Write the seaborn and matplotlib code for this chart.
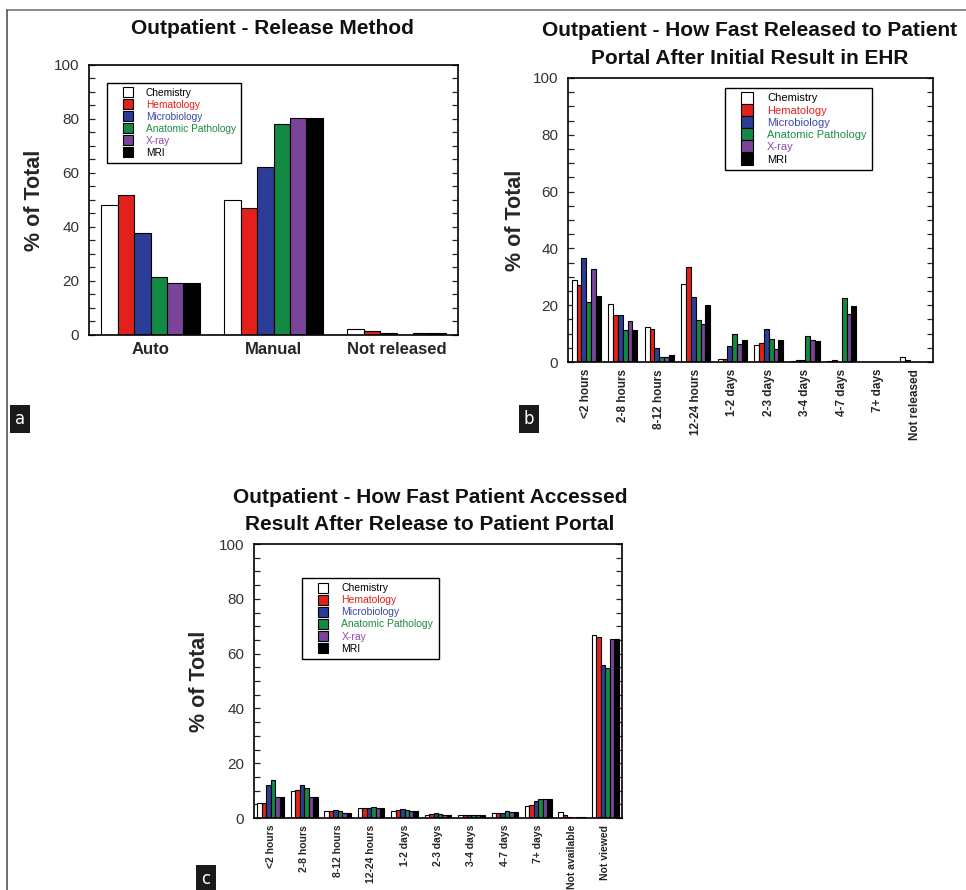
import matplotlib
matplotlib.use("Agg")
import matplotlib.pyplot as plt
from matplotlib.lines import Line2D
from matplotlib.ticker import MultipleLocator
import pandas as pd
import seaborn as sns

# ---------------------------------------------------------------------------
# data (% of total)
# ---------------------------------------------------------------------------

DEPTS = ["Chemistry", "Hematology", "Microbiology", "Anatomic Pathology", "X-ray", "MRI"]
FILL = ["white", "#e3201b", "#2b3d97", "#138a43", "#7a449a", "black"]
TEXT = ["black", "#e3201b", "#3b4aa8", "#1d8a45", "#8b4aa8", "black"]

# panel a - release method
a_cats = ["Auto", "Manual", "Not released"]
a_chemistry = [48.1, 50.0, 2.3]
a_hematology = [51.9, 47.2, 1.4]
a_microbiology = [37.7, 62.3, 0.6]
a_anatomic = [21.6, 78.1, 0.0]
a_xray = [19.4, 80.2, 0.6]
a_mri = [19.4, 80.2, 0.6]

# panel b - how fast released to portal
b_cats = ["<2 hours", "2-8 hours", "8-12 hours", "12-24 hours", "1-2 days",
          "2-3 days", "3-4 days", "4-7 days", "7+ days", "Not released"]
b_chemistry = [28.8, 20.3, 12.3, 27.6, 1.2, 6.1, 0.2, 0.2, 0.0, 1.8]
b_hematology = [27.0, 16.7, 11.6, 33.5, 1.2, 6.8, 0.8, 0.8, 0.0, 0.8]
b_microbiology = [36.7, 16.7, 4.9, 22.9, 5.6, 11.5, 0.8, 0.0, 0.0, 0.0]
b_anatomic = [21.1, 11.2, 1.8, 14.9, 10.0, 8.0, 9.0, 22.7, 0.0, 0.0]
b_xray = [32.6, 14.4, 1.8, 13.5, 6.5, 4.7, 7.6, 17.0, 0.0, 0.0]
b_mri = [23.2, 11.4, 2.3, 20.0, 7.6, 7.6, 7.3, 19.6, 0.0, 0.0]

# panel c - how fast patient accessed
c_cats = ["<2 hours", "2-8 hours", "8-12 hours", "12-24 hours", "1-2 days",
          "2-3 days", "3-4 days", "4-7 days", "7+ days", "Not available", "Not viewed"]
c_chemistry = [5.6, 9.9, 2.4, 3.5, 2.4, 1.1, 1.1, 1.9, 4.4, 2.2, 66.8]
c_hematology = [5.6, 10.3, 2.4, 3.5, 2.8, 1.6, 1.1, 1.9, 4.9, 1.1, 66.1]
c_microbiology = [11.9, 11.9, 2.8, 3.5, 3.2, 1.9, 1.1, 1.9, 6.1, 0.4, 55.8]
c_anatomic = [14.0, 11.1, 2.4, 4.0, 2.8, 1.6, 1.1, 2.4, 6.9, 0.0, 54.6]
c_xray = [7.7, 7.7, 1.9, 3.5, 2.4, 1.1, 1.1, 2.2, 6.9, 0.4, 65.5]
c_mri = [7.7, 7.7, 1.9, 3.5, 2.4, 1.1, 1.1, 2.2, 6.9, 0.4, 65.5]

W, H = 966, 890
FONT = ["Liberation Sans", "DejaVu Sans"]


def long_df(cats, series):
    rows = []
    for dept, vals in zip(DEPTS, series):
        for cat, v in zip(cats, vals):
            rows.append((cat, dept, v))
    return pd.DataFrame(rows, columns=["cat", "dept", "pct"])


def px_axes(fig, x0, y0, x1, y1):
    # pixel box (top-left origin) -> figure axes
    return fig.add_axes([x0 / W, 1 - y1 / H, (x1 - x0) / W, (y1 - y0) / H])


def draw_panel(ax, cats, series, leg_anchor, leg_size, tick_size, tick_rot, lab_x, marker):
    df = long_df(cats, series)
    sns.barplot(data=df, x="cat", y="pct", hue="dept", order=cats, hue_order=DEPTS,
                palette=dict(zip(DEPTS, FILL)), saturation=1, width=0.8,
                edgecolor="black", linewidth=0.8, legend=False, ax=ax)
    ax.set_ylim(0, 100)
    ax.set_xlim(-0.5, len(cats) - 0.5)
    ax.yaxis.set_major_locator(MultipleLocator(20))
    ax.yaxis.set_minor_locator(MultipleLocator(5))
    ax.tick_params(axis="y", which="both", direction="in", left=True, right=True,
                   length=4, width=0.9, labelsize=11, labelcolor="#333333", pad=7)
    ax.tick_params(axis="x", length=0, pad=5)
    for lab in ax.get_xticklabels():
        lab.set_rotation(tick_rot)
        lab.set_fontsize(tick_size)
        lab.set_fontweight("bold")
        if tick_rot:
            lab.set_va("top")
            lab.set_ha("center")
    for s in ax.spines.values():
        s.set_linewidth(1.2)
        s.set_color("black")
    ax.set_xlabel("")
    ax.set_ylabel("% of Total", fontsize=15.5, fontweight="bold")
    ax.yaxis.set_label_coords(lab_x, 0.5)

    handles = [Line2D([], [], marker="s", linestyle="none", markersize=marker,
                      markerfacecolor=f, markeredgecolor="black", markeredgewidth=0.8)
               for f in FILL]
    leg = ax.legend(handles, DEPTS, loc="upper left", bbox_to_anchor=leg_anchor,
                    fontsize=leg_size, frameon=True, fancybox=False, edgecolor="black",
                    framealpha=1, handlelength=3.0, handletextpad=0.3,
                    labelspacing=0.2, borderpad=0.5, borderaxespad=0, numpoints=1)
    leg.get_frame().set_linewidth(1.0)
    for t, c in zip(leg.get_texts(), TEXT):
        t.set_color(c)


sns.set_theme(style="white")
plt.rcParams["font.family"] = FONT

fig = plt.figure(figsize=(W / 100, H / 100), dpi=100)

ax_a = px_axes(fig, 89, 65, 458, 335)
draw_panel(ax_a, a_cats,
           [a_chemistry, a_hematology, a_microbiology, a_anatomic, a_xray, a_mri],
           leg_anchor=(0.05, 0.935), leg_size=7.3, tick_size=12, tick_rot=0,
           lab_x=-0.12, marker=7)

ax_b = px_axes(fig, 568, 78, 933, 362)
draw_panel(ax_b, b_cats,
           [b_chemistry, b_hematology, b_microbiology, b_anatomic, b_xray, b_mri],
           leg_anchor=(0.43, 0.965), leg_size=8, tick_size=8.5, tick_rot=90,
           lab_x=-0.115, marker=8)

ax_c = px_axes(fig, 254, 544, 622, 818)
draw_panel(ax_c, c_cats,
           [c_chemistry, c_hematology, c_microbiology, c_anatomic, c_xray, c_mri],
           leg_anchor=(0.13, 0.876), leg_size=7.5, tick_size=7.5, tick_rot=90,
           lab_x=-0.12, marker=7)

# titles
title_kw = dict(ha="center", va="center", fontsize=15, fontweight="bold", color="#111111")
fig.text(272 / W, 1 - 28 / H, "Outpatient - Release Method", **title_kw)
fig.text(750 / W, 1 - 31 / H, "Outpatient - How Fast Released to Patient", **title_kw)
fig.text(750 / W, 1 - 59 / H, "Portal After Initial Result in EHR", **title_kw)
fig.text(430 / W, 1 - 498 / H, "Outpatient - How Fast Patient Accessed", **title_kw)
fig.text(430 / W, 1 - 524 / H, "Result After Release to Patient Portal", **title_kw)

# panel letters
box = dict(facecolor="#1a1a1a", edgecolor="none", boxstyle="square,pad=0.3")
for x, y, s in [(20, 419, "a"), (529, 419, "b"), (206, 879, "c")]:
    fig.text(x / W, 1 - y / H, s, ha="center", va="center", fontsize=12,
             color="white", bbox=box, family=["DejaVu Sans"])

# page frame lines
fig.add_artist(Line2D([7 / W, 1], [1 - 10 / H, 1 - 10 / H], color="#777777", lw=1.2))
fig.add_artist(Line2D([7 / W, 7 / W], [0, 1 - 10 / H], color="#555555", lw=1.2))

fig.savefig("out.png", dpi=100)
